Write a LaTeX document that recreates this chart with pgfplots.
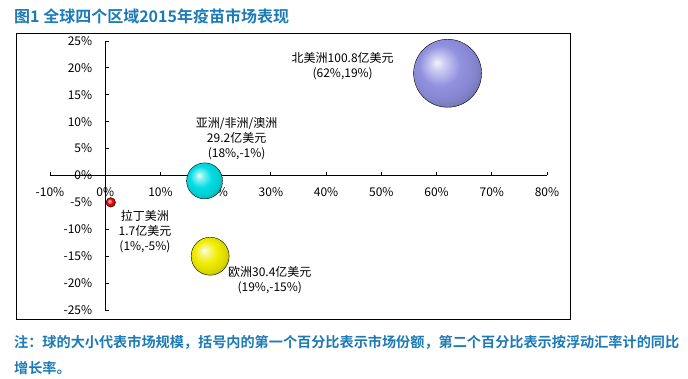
\documentclass[border=0pt]{standalone}
\usepackage{pgfplots}
\pgfplotsset{compat=1.18}
\usepackage{fontspec}
\setmainfont{Noto Sans CJK SC}[BoldFont={Noto Sans CJK SC Bold}]
\definecolor{titleblue}{RGB}{28,122,182}
\definecolor{naball}{RGB}{145,145,225}
\definecolor{asball}{RGB}{0,222,228}
\definecolor{euball}{RGB}{240,236,0}
\definecolor{laball}{RGB}{230,0,0}
\newcommand\declball[2]{%
\pgfdeclareradialshading{#1}{\pgfqpoint{-8bp}{8bp}}{%
 color(0bp)=(#2!10!white);
 color(5bp)=(#2!45!white);
 color(15bp)=(#2);
 color(24bp)=(#2!92!black);
 color(32bp)=(#2!75!black);
 color(50bp)=(#2!75!black)}}
\declball{nashade}{naball}
\declball{asshade}{asball}
\declball{eushade}{euball}
\declball{lashade}{laball}
\begin{document}
\begin{tikzpicture}
\path[use as bounding box] (0pt,0pt) rectangle (688pt,379pt);
\draw[line width=0.9pt] (16.5pt,346pt) rectangle (570pt,60pt);
\node[anchor=west, text=titleblue, font=\fontsize{16}{18}\selectfont\bfseries, inner sep=0pt] at (14pt,363pt) {图1 全球四个区域2015年疫苗市场表现};
\node[anchor=west, text=titleblue, font=\fontsize{14.15}{16}\selectfont\bfseries, inner sep=0pt] at (14pt,37pt) {注：球的大小代表市场规模，括号内的第一个百分比表示市场份额，第二个百分比表示按浮动汇率计的同比};
\node[anchor=west, text=titleblue, font=\fontsize{14.15}{16}\selectfont\bfseries, inner sep=0pt] at (14pt,11pt) {增长率。};
\begin{axis}[
  at={(50pt,69pt)}, anchor=south west, scale only axis,
  width=497pt, height=269pt,
  xmin=-10, xmax=80, ymin=-25, ymax=25,
  axis lines=middle, axis line style={-, line width=0.8pt},
  clip=false,
  hide obscured x ticks=false, hide obscured y ticks=false,
  tick align=inside, major tick length=3.5pt,
  tick style={black, line width=0.8pt},
  xtick={-10,0,10,20,30,40,50,60,70,80},
  xticklabels={-10\%,0\%,10\%,20\%,30\%,40\%,50\%,60\%,70\%,80\%},
  ytick={-25,-20,-15,-10,-5,0,5,10,15,20,25},
  yticklabels={-25\%,-20\%,-15\%,-10\%,-5\%,0\%,5\%,10\%,15\%,20\%,25\%},
  ticklabel style={font=\fontsize{12}{14}\selectfont},
  xticklabel style={yshift=-8.5pt},
  yticklabel style={xshift=-9.5pt},
  ballplot/.style 2 args={only marks, scatter, mark=*, mark size=0.01pt,
    scatter/@pre marker code/.code={\shade[shading=#1] (0pt,0pt) circle[radius=#2];\begin{scope}[opacity=0]},
    scatter/@post marker code/.code={\end{scope}}},
]
\addplot[ballplot={nashade}{34pt}] coordinates {(62,19)};
\addplot[ballplot={asshade}{18pt}] coordinates {(18,-1)};
\addplot[ballplot={eushade}{19pt}] coordinates {(19,-15)};
\addplot[ballplot={lashade}{4.8pt}] coordinates {(1,-5)};
\node[align=center, font=\fontsize{12}{15}\selectfont] at (axis cs:43.0,20.3) {北美洲100.8亿美元\\(62\%,19\%)};
\node[align=center, font=\fontsize{12}{15}\selectfont] at (axis cs:23.8,6.9) {亚洲/非洲/澳洲\\29.2亿美元\\(18\%,-1\%)};
\node[align=center, font=\fontsize{12}{15}\selectfont] at (axis cs:7.2,-10.5) {拉丁美洲\\1.7亿美元\\(1\%,-5\%)};
\node[align=center, font=\fontsize{12}{15}\selectfont] at (axis cs:29.8,-19.5) {欧洲30.4亿美元\\(19\%,-15\%)};
\end{axis}
\end{tikzpicture}
\end{document}
